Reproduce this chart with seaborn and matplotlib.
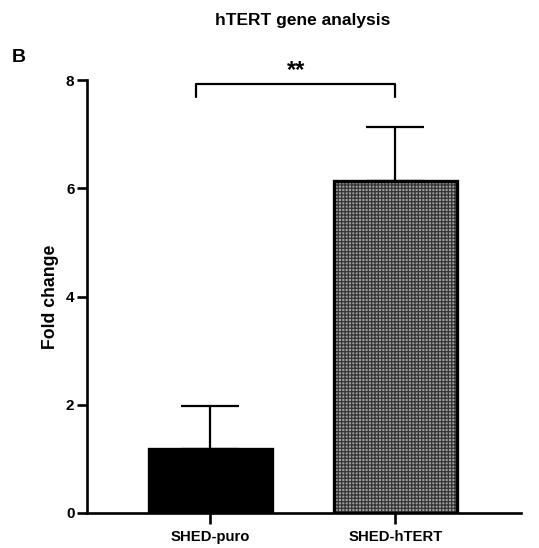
import matplotlib
matplotlib.use("Agg")
import matplotlib.pyplot as plt
import seaborn as sns
import pandas as pd
import numpy as np

groups = ["SHED-puro", "SHED-hTERT"]
fold_change = [1.18, 6.14]
error_upper = [0.80, 0.99]
y_ticks = [0, 2, 4, 6, 8]
title = "hTERT gene analysis"
sig_label = "**"

sns.set_theme(style="white")
plt.rcParams['font.family'] = ['Liberation Sans', 'DejaVu Sans']
plt.rcParams['hatch.linewidth'] = 0.9
plt.rcParams['text.color'] = 'black'
plt.rcParams['axes.labelcolor'] = 'black'
plt.rcParams['xtick.color'] = 'black'
plt.rcParams['ytick.color'] = 'black'

df = pd.DataFrame({"group": groups, "fold": fold_change})

fig = plt.figure(figsize=(5.39, 5.48), dpi=100)
ax = fig.add_axes([87/539, 35/548, (521-87)/539, (513-80)/548])

sns.barplot(data=df, x="group", y="fold", ax=ax, width=0.665,
            errorbar=None, palette=["black", "#a0a0a0"], hue="group",
            legend=False, edgecolor="black", linewidth=2.4, saturation=1)
patches = ax.patches
patches[1].set_hatch("+++++")
patches[1]._hatch_color = matplotlib.colors.to_rgba("#353535")

ax.errorbar(x=np.arange(len(groups)), y=fold_change,
            yerr=[np.zeros(len(groups)), error_upper],
            fmt="none", ecolor="black", elinewidth=1.6, capsize=21,
            capthick=1.6, zorder=1)

ax.set_ylim(0, 8)
ax.set_xlim(-0.667, 1.68)
ax.set_yticks(y_ticks)
ax.set_yticklabels([str(t) for t in y_ticks], fontweight="bold", fontsize=11, color="black")
ax.set_xticks(range(len(groups)))
ax.set_xticklabels(groups, fontweight="bold", fontsize=10.7, color="black")
ax.set_xlabel("")
ax.set_ylabel("Fold change", fontweight="bold", fontsize=12.7, color="black")
ax.yaxis.set_label_coords(-0.064, 0.5)

for s in ["top", "right"]:
    ax.spines[s].set_visible(False)
for s in ["left", "bottom"]:
    ax.spines[s].set_linewidth(1.9)
    ax.spines[s].set_color("black")
ax.tick_params(axis="y", direction="out", length=7, width=1.9, color="black", pad=2, left=True)
ax.tick_params(axis="x", direction="out", length=8, width=1.9, color="black", pad=4, bottom=True)

# significance bracket
x0, x1 = -0.078, 1.0
yb, yt = 7.69, 7.93
ax.plot([x0, x0, x1, x1], [yb, yt, yt, yb], color="black", lw=1.6, clip_on=False)
ax.text((x0 + x1) / 2, 7.97, sig_label, ha="center", va="bottom", fontsize=17,
        fontweight="bold", clip_on=False, color="black")

fig.text(303/539, 1 - 20/548, title, ha="center", va="center", fontsize=12.5,
         fontweight="bold", color="black")
fig.text(19/539, 1 - 57/548, "B", ha="center", va="center", fontsize=14,
         fontweight="bold", color="black")

fig.savefig("out.png", dpi=100)
